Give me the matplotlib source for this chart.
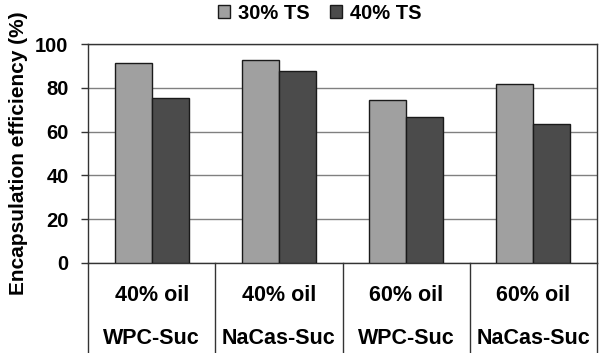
import numpy as np
from matplotlib import pyplot as plt
import matplotlib.patches as mpatches

plt.rcParams['font.family'] = ['Liberation Sans', 'DejaVu Sans']
plt.rcParams['font.weight'] = 'bold'

oil_labels = ['40% oil', '40% oil', '60% oil', '60% oil']
wall_labels = ['WPC-Suc', 'NaCas-Suc', 'WPC-Suc', 'NaCas-Suc']
ts30 = [91.2, 92.8, 74.3, 81.7]
ts40 = [75.3, 87.7, 66.7, 63.6]
series_names = ['30% TS', '40% TS']
yticks = [0, 20, 40, 60, 80, 100]

fig = plt.figure(figsize=(6, 3.53), dpi=100)
ax = fig.add_axes([0.1467, 0.255, 0.8483, 0.62])

x = np.arange(len(ts30))
w = 0.29
ax.bar(x - w / 2, ts30, w, color='#a0a0a0', edgecolor='#1a1a1a', linewidth=1, zorder=3, label=series_names[0])
ax.bar(x + w / 2, ts40, w, color='#4b4b4b', edgecolor='#1a1a1a', linewidth=1, zorder=3, label=series_names[1])

ax.set_xlim(-0.5, len(ts30) - 0.5)
ax.set_ylim(0, 100)
ax.set_yticks(yticks)
ax.set_yticklabels([str(t) for t in yticks], fontsize=14.5, fontweight='bold')
ax.yaxis.grid(True, color='#808080', linewidth=1, zorder=0)
ax.tick_params(axis='y', direction='out', length=5, width=1, color='#333333', pad=9)
ax.set_xticks([])
for s in ax.spines.values():
    s.set_color('#333333')
    s.set_linewidth(1)

ax.set_ylabel('Encapsulation efficiency (%)', fontsize=15, fontweight='bold')
ax.yaxis.set_label_coords(-0.118, 0.5)

# category table under the axis
for b in np.arange(len(ts30) + 1) - 0.5:
    ax.plot([b, b], [0, -0.42], transform=ax.get_xaxis_transform(), color='#333333',
            linewidth=1, clip_on=False)
for i in range(len(ts30)):
    ax.text(x[i], -0.15, oil_labels[i], transform=ax.get_xaxis_transform(),
            ha='center', va='center', fontsize=15.5, fontweight='bold')
    ax.text(x[i], -0.345, wall_labels[i], transform=ax.get_xaxis_transform(),
            ha='center', va='center', fontsize=15.5, fontweight='bold')

fig.legend(loc='center', bbox_to_anchor=(0.533, 0.962), ncol=2, frameon=False,
           handlelength=0.6, handleheight=0.6, handletextpad=0.4,
           columnspacing=1.0, prop={'weight': 'bold', 'size': 14.5})

fig.savefig('out.png', dpi=100)
